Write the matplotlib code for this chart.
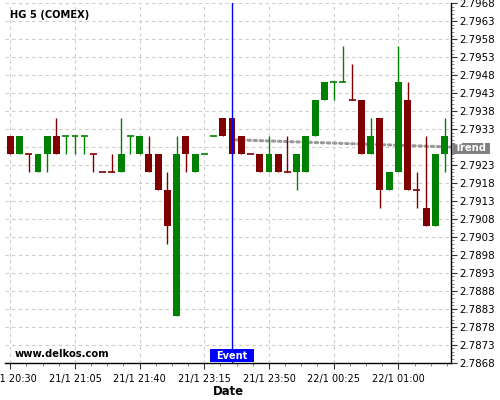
import matplotlib
matplotlib.use("Agg")
import matplotlib.pyplot as plt
from matplotlib.patches import Rectangle
from matplotlib.ticker import MultipleLocator, FixedLocator

# 5-minute candles, HG (COMEX)
opens  = [2.7931, 2.7926, 2.7926, 2.7921, 2.7926, 2.7931, 2.7931, 2.7931, 2.7931, 2.7926,
          2.7921, 2.7921, 2.7921, 2.7931, 2.7926, 2.7926, 2.7926, 2.7916, 2.7881, 2.7931,
          2.7921, 2.7926, 2.7931, 2.7936, 2.7936, 2.7931, 2.7926, 2.7926, 2.7921, 2.7926,
          2.7921, 2.7921, 2.7921, 2.7931, 2.7941, 2.7946, 2.7946, 2.7941, 2.7941, 2.7926,
          2.7936, 2.7916, 2.7921, 2.7941, 2.7916, 2.7911, 2.7906, 2.7926]
highs  = [2.7931, 2.7931, 2.7926, 2.7926, 2.7931, 2.7936, 2.7931, 2.7931, 2.7931, 2.7926,
          2.7921, 2.7926, 2.7936, 2.7931, 2.7931, 2.7931, 2.7926, 2.7921, 2.7931, 2.7931,
          2.7926, 2.7926, 2.7931, 2.7936, 2.7936, 2.7931, 2.7926, 2.7926, 2.7931, 2.7926,
          2.7931, 2.7926, 2.7931, 2.7941, 2.7946, 2.7946, 2.7956, 2.7951, 2.7941, 2.7936,
          2.7936, 2.7921, 2.7956, 2.7946, 2.7921, 2.7931, 2.7926, 2.7936]
lows   = [2.7926, 2.7926, 2.7921, 2.7921, 2.7921, 2.7926, 2.7926, 2.7926, 2.7926, 2.7921,
          2.7921, 2.7921, 2.7921, 2.7926, 2.7926, 2.7921, 2.7916, 2.7901, 2.7881, 2.7921,
          2.7921, 2.7926, 2.7931, 2.7931, 2.7926, 2.7926, 2.7926, 2.7921, 2.7921, 2.7921,
          2.7921, 2.7916, 2.7921, 2.7931, 2.7941, 2.7941, 2.7946, 2.7941, 2.7926, 2.7926,
          2.7911, 2.7916, 2.7921, 2.7916, 2.7911, 2.7906, 2.7906, 2.7921]
closes = [2.7926, 2.7931, 2.7926, 2.7926, 2.7931, 2.7926, 2.7931, 2.7931, 2.7931, 2.7926,
          2.7921, 2.7921, 2.7926, 2.7931, 2.7931, 2.7921, 2.7916, 2.7906, 2.7926, 2.7926,
          2.7926, 2.7926, 2.7931, 2.7931, 2.7926, 2.7926, 2.7926, 2.7921, 2.7926, 2.7921,
          2.7921, 2.7926, 2.7931, 2.7941, 2.7946, 2.7946, 2.7946, 2.7941, 2.7926, 2.7931,
          2.7916, 2.7921, 2.7946, 2.7916, 2.7916, 2.7906, 2.7926, 2.7931]
tick_idx = [0, 7, 14, 21, 28, 35, 42]
tick_labels = ['21/1 20:30', '21/1 21:05', '21/1 21:40', '21/1 23:15',
               '21/1 23:50', '22/1 00:25', '22/1 01:00']
event_idx = 24
trend_x = [24.4, 47.8]
trend_y = [2.79300, 2.79280]
ymin, ymax = 2.7868, 2.7968

up_col = '#008000'
dn_col = '#800000'

fig = plt.figure(figsize=(5, 4), dpi=100)
ax = fig.add_axes([0.01, 0.0933, 0.892, 0.8985])

# colour: up/down vs open, doji vs previous close (keep previous colour when flat)
prev_up = False
prev_c = closes[0]
for i in range(len(opens)):
    o, h, l, c = opens[i], highs[i], lows[i], closes[i]
    if c > o:
        up = True
    elif c < o:
        up = False
    elif c > prev_c:
        up = True
    elif c < prev_c:
        up = False
    else:
        up = prev_up
    col = up_col if up else dn_col
    ax.vlines(i, l, h, color=col, linewidth=1, zorder=3)
    if c == o:
        ax.hlines(c, i - 0.37, i + 0.37, color=col, linewidth=1.2, zorder=3)
    else:
        ax.bar(i, abs(c - o), bottom=min(o, c), width=0.75, color=col, zorder=3)
    prev_up = up
    prev_c = c

ax.set_xlim(-0.57, 47.7)
ax.set_ylim(ymin, ymax)


def pixel_label(x0, yc, w, h, fc, txt, fs, tx0):
    # box + white bold text, in display pixels
    rect = Rectangle((x0, yc - h / 2), w, h, transform=None, fc=fc, ec='none', zorder=20)
    fig.add_artist(rect)
    fig.text(tx0, yc, txt, transform=None, ha='left', va='center', color='white',
             fontsize=fs, fontweight='bold', zorder=21)


# event marker
ax.axvline(event_idx, color='#0000ff', linewidth=1, zorder=4)
ex, ey = ax.transData.transform((event_idx, ymin))
pixel_label(ex - 22, ey + 7, 44, 13, '#0000ff', 'Event', 7.0, ex - 16)

# trend line
ax.plot(trend_x, trend_y, linestyle=(0, (0.8, 1.2)), color='#999999', linewidth=2.2,
        dash_capstyle='round', zorder=2, clip_on=False)
tx, ty = ax.transData.transform((47.7, trend_y[1]))
pixel_label(tx + 1, ty - 1, 38, 11, '#808080', 'Trend', 7.2, tx + 3.5)

# axes styling
for s in ['left', 'top']:
    ax.spines[s].set_visible(False)
ax.spines['right'].set_linewidth(1)
ax.spines['bottom'].set_linewidth(1)
ax.yaxis.tick_right()
yticks = [ymin + 0.0005 * k for k in range(21)]
ax.set_yticks(yticks)
# the label under the Trend box is hidden in the original
ax.set_yticklabels(['' if abs(v - 2.7928) < 1e-6 else '%.4f' % v for v in yticks])
ax.yaxis.set_minor_locator(MultipleLocator(0.0001))
ax.xaxis.set_major_locator(FixedLocator(tick_idx))
ax.set_xticklabels(tick_labels)
ax.xaxis.set_minor_locator(MultipleLocator(1.75))
ax.tick_params(axis='both', which='major', length=4, color='#333333')
ax.tick_params(axis='y', which='major', labelsize=7.4, pad=2)
ax.tick_params(axis='x', which='major', labelsize=7.0, pad=4)
ax.tick_params(axis='both', which='minor', length=2, color='#777777')
ax.grid(True, which='major', color='#cccccc', linestyle=(0, (3, 3)), linewidth=0.8)
ax.set_axisbelow(True)
ax.set_xlabel('Date', fontsize=8.4, fontweight='bold', labelpad=1)

ax.text(0.011, 0.967, 'HG 5 (COMEX)', transform=ax.transAxes, fontsize=7.1,
        fontweight='bold', va='center', ha='left')
ax.text(0.022, 0.024, 'www.delkos.com', transform=ax.transAxes, fontsize=7.2,
        fontweight='bold', va='center', ha='left')

fig.savefig('out.png', dpi=100)
